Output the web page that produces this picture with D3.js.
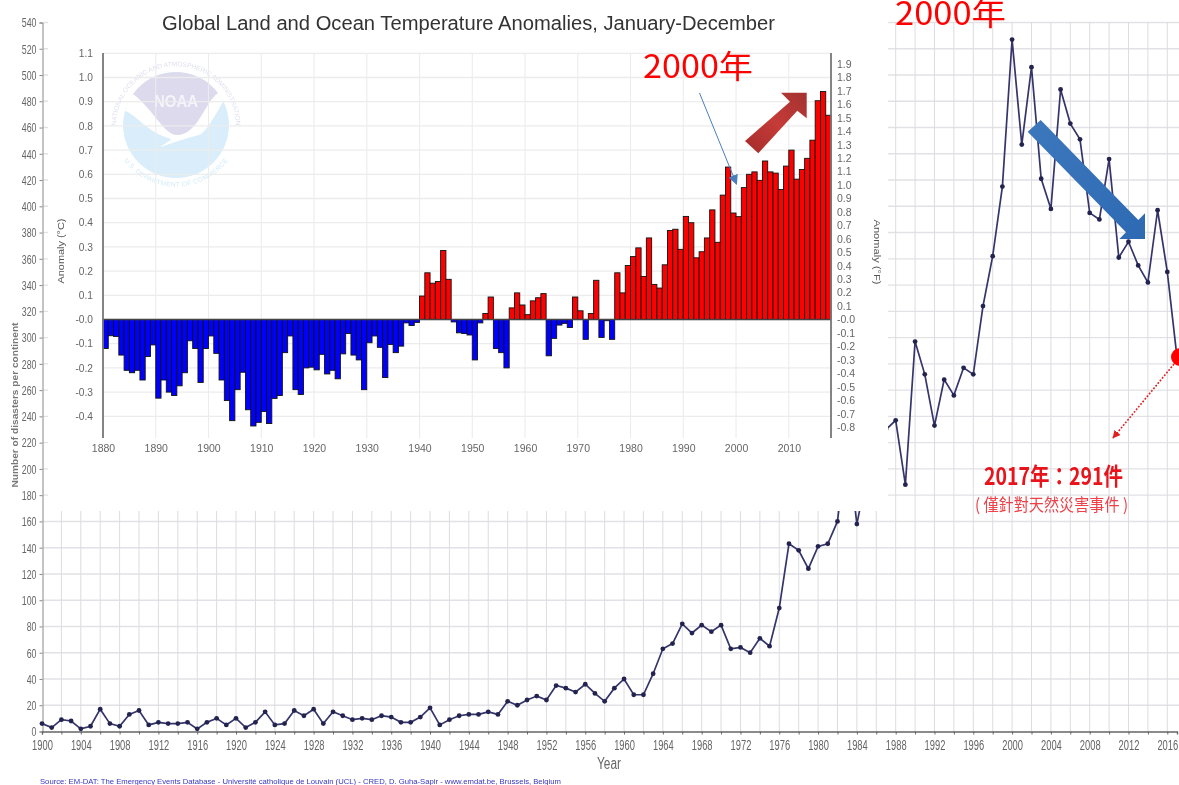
<!DOCTYPE html>
<html><head><meta charset="utf-8">
<script src="https://cdn.jsdelivr.net/npm/d3@7/dist/d3.min.js"></script>
<style>
html,body{margin:0;padding:0;background:#fff;overflow:hidden}
svg{display:block}
.soft{filter:blur(.45px)}
.tick text{font-family:"Liberation Sans",Arial,sans-serif}
</style></head><body>
<svg id="c" width="1179" height="785"></svg>
<script>
const disasterStartYear = 1900;
const disasterCounts = [6,3,9,8,2,4,17,6,4,13,16,5,7,6,6,7,2,7,10,5,10,3,7,15,5,6,16,12,17,6,15,12,9,10,9,12,11,7,7,11,18,5,9,12,13,13,15,13,23,20,24,27,24,35,33,30,36,29,23,33,40,28,28,44,63,67,82,75,81,76,81,63,64,60,71,65,94,143,138,124,141,143,160,222,158,195,215,230,237,188,297,272,233,268,256,277,272,324,362,415,527,447,506,421,398,489,463,451,395,390,436,361,373,355,342,397,350,285];
const tempStartYear = 1880;
const tempAnomaly = [-.12,-.067,-.07,-.147,-.21,-.22,-.21,-.25,-.153,-.105,-.325,-.25,-.30,-.314,-.274,-.22,-.088,-.12,-.26,-.12,-.068,-.14,-.25,-.335,-.418,-.29,-.218,-.373,-.44,-.425,-.38,-.43,-.326,-.314,-.137,-.068,-.29,-.31,-.2,-.197,-.208,-.144,-.225,-.21,-.245,-.142,-.058,-.147,-.167,-.29,-.096,-.068,-.115,-.24,-.103,-.137,-.11,-.014,-.025,-.012,.097,.193,.15,.157,.285,.166,-.01,-.055,-.058,-.064,-.167,-.014,.025,.093,-.12,-.137,-.2,.048,.11,.06,.02,.077,.09,.107,-.15,-.078,-.023,-.016,-.033,.093,.036,-.082,.025,.162,-.074,-.005,-.082,.193,.11,.223,.26,.296,.178,.337,.145,.13,.226,.368,.373,.29,.426,.40,.255,.28,.337,.453,.319,.514,.63,.44,.425,.545,.60,.61,.575,.655,.61,.605,.537,.634,.70,.58,.62,.666,.741,.904,.942,.844];
const tempCTicks = [1.1,1,.9,.8,.7,.6,.5,.4,.3,.2,.1,0,-.1,-.2,-.3,-.4];
const tempFTicks = [1.9,1.8,1.7,1.6,1.5,1.4,1.3,1.2,1.1,1,.9,.8,.7,.6,.5,.4,.3,.2,.1,0,-.1,-.2,-.3,-.4,-.5,-.6,-.7,-.8];
const decadeTicks = [1880,1890,1900,1910,1920,1930,1940,1950,1960,1970,1980,1990,2000,2010];
const titleText = "Global Land and Ocean Temperature Anomalies, January-December";
const sourceText = "Source: EM-DAT: The Emergency Events Database - Université catholique de Louvain (UCL) - CRED, D. Guha-Sapir - www.emdat.be, Brussels, Belgium";
const callout2000 = "2000年";
const callout2017 = "2017年：291件";
const calloutNote = "( 僅針對天然災害事件 )";

const svg = d3.select("#c");
const defs = svg.append("defs");
const fmt1 = d => Math.abs(d) < 1e-9 ? "-0.0" : d.toFixed(1);
const squeeze = (sel, perChar) => sel.each(function(){
  const n = this.textContent.length;
  if (n) d3.select(this).attr("textLength", n*perChar).attr("lengthAdjust","spacingAndGlyphs");
});

/* ---------- disaster line chart (background) ---------- */
const lx = d3.scaleLinear().domain([1900,2017]).range([42,1177]);
const ly = d3.scaleLinear().domain([0,540]).range([731.5,22.5]);
const gLine = svg.append("g").attr("class","soft");
const yearsEven = d3.range(1900,2018,2), countTicks = d3.range(0,541,20);

gLine.append("g").selectAll("line").data(countTicks.slice(1)).join("line")
  .attr("x1",43).attr("x2",1179).attr("y1",d=>ly(d)).attr("y2",d=>ly(d))
  .attr("stroke","#e2e2e6").attr("stroke-width",1.4);
gLine.append("g").selectAll("line").data(yearsEven.slice(1)).join("line")
  .attr("x1",d=>lx(d)).attr("x2",d=>lx(d)).attr("y1",22).attr("y2",731)
  .attr("stroke","#dcdce2").attr("stroke-width",1);

const axL = gLine.append("g").attr("transform","translate(42.5,0)")
  .call(d3.axisLeft(ly).tickValues(countTicks).tickSize(3).tickPadding(3));
axL.selectAll("text").attr("font-size",13.5).attr("fill","#666").call(squeeze,4.9);
axL.selectAll("line,path").attr("stroke","#888");
const axB = gLine.append("g").attr("transform","translate(0,731.5)")
  .call(d3.axisBottom(lx).tickValues(yearsEven).tickSize(3).tickPadding(6).tickFormat(d=>d%4===0?d:""));
axB.selectAll("text").attr("font-size",14).attr("fill","#666").call(squeeze,5.2);
axB.selectAll("line,path").attr("stroke","#666");
axB.select("path").attr("stroke-width",1.4);

const disasterData = disasterCounts.map((v,i)=>({year:disasterStartYear+i,v}));
gLine.append("path").datum(disasterData)
  .attr("fill","none").attr("stroke","#35356b").attr("stroke-width",1.7)
  .attr("d",d3.line().x(d=>lx(d.year)).y(d=>ly(d.v)));
gLine.append("g").selectAll("circle").data(disasterData).join("circle")
  .attr("cx",d=>lx(d.year)).attr("cy",d=>ly(d.v)).attr("r",2.4).attr("fill","#23234f");

gLine.append("text").attr("transform","translate(18,405) rotate(-90)").attr("text-anchor","middle")
  .attr("font-family","Liberation Sans").attr("font-size",8.5).attr("font-weight","bold").attr("fill","#777")
  .attr("textLength",165).attr("lengthAdjust","spacingAndGlyphs").text("Number of disasters per continent");
gLine.append("text").attr("x",609).attr("y",769).attr("text-anchor","middle")
  .attr("font-family","Liberation Sans").attr("font-size",16).attr("fill","#666")
  .attr("textLength",24).attr("lengthAdjust","spacingAndGlyphs").text("Year");
gLine.append("text").attr("x",40).attr("y",784)
  .attr("font-family","Liberation Sans").attr("font-size",7.6).attr("fill","#3535c0")
  .attr("textLength",521).attr("lengthAdjust","spacingAndGlyphs").text(sourceText);

/* white pasted panel hiding the middle of the line chart */
svg.append("rect").attr("x",48).attr("y",0).attr("width",840).attr("height",511).attr("fill","#fff");

/* ---------- temperature bars (pasted on top) ---------- */
const tx = d3.scaleLinear().domain([1880,2018]).range([103,831]);
const ty = d3.scaleLinear().domain([0,1]).range([319.5,77.5]);
const tyF = d3.scaleLinear().domain([0,1]).range([319.5,185]);
const gTemp = svg.append("g").attr("class","soft");
const tTop = 53, tBottom = 438;

/* NOAA watermark */
const logo = gTemp.append("g").attr("transform","translate(176,125)");
const R = 53;
defs.append("clipPath").attr("id","disc").append("circle").attr("r",R);
logo.append("circle").attr("r",R).attr("fill","#d9eefa");
logo.append("path").attr("clip-path","url(#disc)")
  .attr("d","M-56,-40 L56,-40 L47,-23 C37,-6 30,7 23,10 C10,13 0,17 -16,22 C-6,15 -2,14 -8,13 C-30,6 -40,-11 -53,-15 Z").attr("fill","#fff");
logo.append("path").attr("d",`M-43,-31 A${R},${R} 0 0 1 42,-32 C28,-22 22,10 1,10 C-12,10 -22,-15 -43,-31 Z`).attr("fill","#dcdaec");
logo.append("text").attr("y",-18).attr("text-anchor","middle").attr("font-family","Liberation Sans").attr("font-weight","bold")
  .attr("font-size",17).attr("fill","#f4f4fa").attr("textLength",44).attr("lengthAdjust","spacingAndGlyphs").text("NOAA");
defs.append("path").attr("id","ringTop").attr("d","M-57,20 A60,60 0 1 1 57,20");
defs.append("path").attr("id","ringBot").attr("d","M-58,12 A60,60 0 0 0 58,12");
logo.append("text").attr("font-family","Liberation Sans").attr("font-size",6.6).attr("fill","#dfdff0")
  .append("textPath").attr("href","#ringTop").attr("startOffset","50%").attr("text-anchor","middle").text("NATIONAL OCEANIC AND ATMOSPHERIC ADMINISTRATION");
logo.append("text").attr("font-family","Liberation Sans").attr("font-size",6.6).attr("dy",5).attr("fill","#d2ebf8")
  .append("textPath").attr("href","#ringBot").attr("startOffset","50%").attr("text-anchor","middle").text("U.S. DEPARTMENT OF COMMERCE");

/* grid */
gTemp.append("g").selectAll("line").data(tempCTicks).join("line")
  .attr("x1",tx.range()[0]).attr("x2",tx.range()[1]).attr("y1",d=>ty(d)).attr("y2",d=>ty(d))
  .attr("stroke","#ececec").attr("stroke-width",1.3);
gTemp.append("g").selectAll("line").data(decadeTicks.slice(1)).join("line")
  .attr("x1",d=>tx(d)).attr("x2",d=>tx(d)).attr("y1",tTop).attr("y2",tBottom)
  .attr("stroke","#ececec").attr("stroke-width",1.1);

/* bars */
const tempData = tempAnomaly.map((v,i)=>({year:tempStartYear+i,v}));
gTemp.append("g").selectAll("rect").data(tempData).join("rect")
  .attr("x",d=>tx(d.year)).attr("width",d=>tx(d.year+1)-tx(d.year))
  .attr("y",d=>Math.min(ty(0),ty(d.v))).attr("height",d=>Math.abs(ty(d.v)-ty(0)))
  .attr("fill",d=>d.v>=0?"#f00":"#00f").attr("stroke","#111").attr("stroke-width",.9);
gTemp.append("line").attr("x1",103).attr("x2",831).attr("y1",ty(0)).attr("y2",ty(0)).attr("stroke","#444").attr("stroke-width",1.3);

/* axes */
const axC = gTemp.append("g").attr("transform","translate(103,0)")
  .call(d3.axisLeft(ty).tickValues(tempCTicks).tickSize(0).tickPadding(10).tickFormat(fmt1));
axC.select("path").remove();
axC.selectAll("text").attr("font-size",10.2).attr("fill","#666");
const axF = gTemp.append("g").attr("transform","translate(831,0)")
  .call(d3.axisRight(tyF).tickValues(tempFTicks).tickSize(0).tickPadding(6).tickFormat(fmt1));
axF.select("path").remove();
axF.selectAll("text").attr("font-size",10.5).attr("fill","#666");
[103,831].forEach(x=>gTemp.append("line").attr("x1",x).attr("x2",x).attr("y1",tTop).attr("y2",tBottom).attr("stroke","#777").attr("stroke-width",1.8));
const axX = gTemp.append("g").attr("transform",`translate(0,${tBottom})`)
  .call(d3.axisBottom(tx).tickValues(decadeTicks).tickSize(0).tickPadding(7).tickFormat(d3.format("d")));
axX.select("path").remove();
axX.selectAll("text").attr("font-size",10.5).attr("fill","#666");

gTemp.append("text").attr("x",468.5).attr("y",29.5).attr("text-anchor","middle")
  .attr("font-family","Liberation Sans").attr("font-size",20).attr("fill","#333")
  .attr("textLength",613).attr("lengthAdjust","spacingAndGlyphs").text(titleText);
gTemp.append("text").attr("transform","translate(64,251) rotate(-90)").attr("text-anchor","middle")
  .attr("font-family","Liberation Sans").attr("font-size",9.5).attr("fill","#555")
  .attr("textLength",65).attr("lengthAdjust","spacingAndGlyphs").text("Anomaly (°C)");
gTemp.append("text").attr("transform","translate(874,252) rotate(90)").attr("text-anchor","middle")
  .attr("font-family","Liberation Sans").attr("font-size",9.5).attr("fill","#555")
  .attr("textLength",65).attr("lengthAdjust","spacingAndGlyphs").text("Anomaly (°F)");

/* ---------- pasted annotations ---------- */
const cjk = "'Noto Sans CJK TC','Noto Sans CJK SC',sans-serif";
const note = svg.append("g");
note.append("text").attr("x",643).attr("y",78).attr("font-family",cjk).attr("font-size",32).attr("fill","#f00")
  .attr("textLength",110).attr("lengthAdjust","spacingAndGlyphs").text(callout2000);
note.append("text").attr("x",895).attr("y",25).attr("font-family",cjk).attr("font-size",32).attr("fill","#f00")
  .attr("textLength",111).attr("lengthAdjust","spacingAndGlyphs").text(callout2000);

/* thin blue pointer */
const head = defs.append("marker").attr("id","bh").attr("viewBox","0 0 10 10").attr("refX",9).attr("refY",5)
  .attr("markerWidth",10).attr("markerHeight",10).attr("orient","auto").attr("markerUnits","userSpaceOnUse");
head.append("path").attr("d","M0,0 L10,5 L0,10 Z").attr("fill","#4a7ebb");
note.append("line").attr("x1",699.5).attr("y1",93).attr("x2",736.5).attr("y2",184)
  .attr("stroke","#4a7ebb").attr("stroke-width",1).attr("marker-end","url(#bh)");

/* block arrows */
const gr = defs.append("linearGradient").attr("id","gr").attr("x1","0").attr("y1","1").attr("x2","1").attr("y2","0");
gr.append("stop").attr("offset","0").attr("stop-color","#a32c2a");
gr.append("stop").attr("offset",".5").attr("stop-color","#c53b38");
gr.append("stop").attr("offset","1").attr("stop-color","#a33230");
note.append("polygon").attr("points","745,141 758.3,153.3 797.3,110.7 806.7,118.3 806.7,92.7 781,92.7 790,101.7").attr("fill","url(#gr)");
const gb = defs.append("linearGradient").attr("id","gb").attr("x1","0").attr("y1","0").attr("x2","1").attr("y2","1");
gb.append("stop").attr("offset","0").attr("stop-color","#3d78bd");
gb.append("stop").attr("offset","1").attr("stop-color","#2e6ab3");
note.append("polygon").attr("points","1027.7,131.7 1040.7,120 1138.3,220 1145,213.3 1145,239 1119.3,239 1126,232.3").attr("fill","url(#gb)");

/* 2017 dot, dotted pointer, labels */
note.append("circle").attr("cx",1180).attr("cy",357).attr("r",9).attr("fill","#f00");
const rh = defs.append("marker").attr("id","rh").attr("viewBox","0 0 10 10").attr("refX",9).attr("refY",5)
  .attr("markerWidth",8).attr("markerHeight",8).attr("orient","auto").attr("markerUnits","userSpaceOnUse");
rh.append("path").attr("d","M0,0 L10,5 L0,10 Z").attr("fill","#e02020");
note.append("line").attr("x1",1174).attr("y1",364).attr("x2",1113).attr("y2",438)
  .attr("stroke","#e02020").attr("stroke-width",1.6).attr("stroke-dasharray","1.8 1.6").attr("marker-end","url(#rh)");
note.append("text").attr("x",984).attr("y",485).attr("font-family",cjk).attr("font-weight","bold").attr("font-size",24).attr("fill","#e8141c")
  .attr("textLength",139).attr("lengthAdjust","spacingAndGlyphs").text(callout2017);
note.append("text").attr("x",975).attr("y",511).attr("font-family",cjk).attr("font-size",17).attr("fill","#ee4048")
  .attr("textLength",153).attr("lengthAdjust","spacingAndGlyphs").text(calloutNote);
</script>
</body></html>
